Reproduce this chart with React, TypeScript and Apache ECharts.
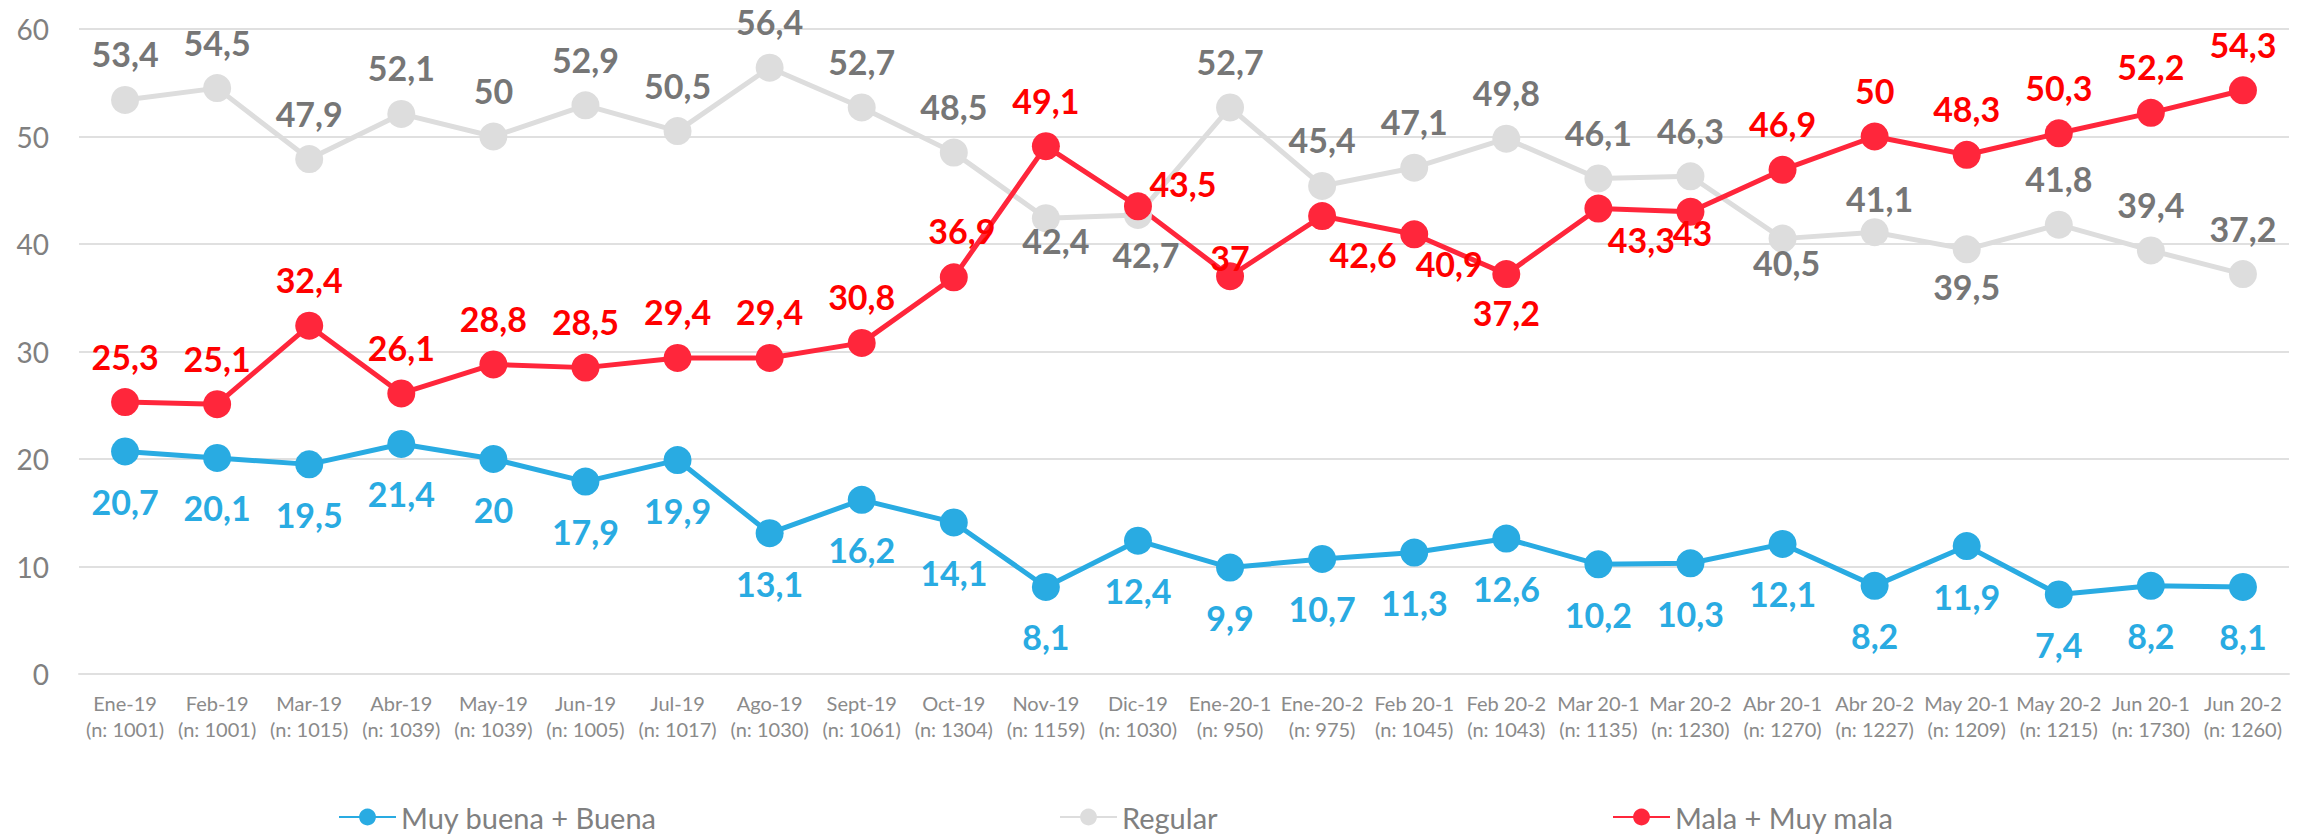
import React, { useEffect, useRef } from "react";
import * as echarts from "echarts";

const categories = [
  "Ene-19", "Feb-19", "Mar-19", "Abr-19", "May-19", "Jun-19", "Jul-19", "Ago-19",
  "Sept-19", "Oct-19", "Nov-19", "Dic-19", "Ene-20-1", "Ene-20-2", "Feb 20-1", "Feb 20-2",
  "Mar 20-1", "Mar 20-2", "Abr 20-1", "Abr 20-2", "May 20-1", "May 20-2", "Jun 20-1", "Jun 20-2",
];
const sampleSizes = [
  "1001", "1001", "1015", "1039", "1039", "1005", "1017", "1030",
  "1061", "1304", "1159", "1030", "950", "975", "1045", "1043",
  "1135", "1230", "1270", "1227", "1209", "1215", "1730", "1260",
];

const buena = [20.7, 20.1, 19.5, 21.4, 20, 17.9, 19.9, 13.1, 16.2, 14.1, 8.1, 12.4, 9.9, 10.7, 11.3, 12.6, 10.2, 10.3, 12.1, 8.2, 11.9, 7.4, 8.2, 8.1];
const regular = [53.4, 54.5, 47.9, 52.1, 50, 52.9, 50.5, 56.4, 52.7, 48.5, 42.4, 42.7, 52.7, 45.4, 47.1, 49.8, 46.1, 46.3, 40.5, 41.1, 39.5, 41.8, 39.4, 37.2];
const mala = [25.3, 25.1, 32.4, 26.1, 28.8, 28.5, 29.4, 29.4, 30.8, 36.9, 49.1, 43.5, 37, 42.6, 40.9, 37.2, 43.3, 43, 46.9, 50, 48.3, 50.3, 52.2, 54.3];

const yTicks = { min: 0, max: 60, interval: 10 };

const seriesNames = ["Muy buena + Buena", "Regular", "Mala + Muy mala"];

// label placement (offsets from the marker centre, px)
const buenaDefaultOffset = [0, 50];
const regularDefaultOffset = [0, -46];
const malaDefaultOffset = [0, -46];
const regularOffsetOverrides: Record<number, number[]> = {
  10: [10, 22], 11: [8, 40], 18: [4, 24], 19: [5, -34], 20: [0, 37],
};
const malaOffsetOverrides: Record<number, number[]> = {
  9: [8, -47], 11: [45, -23], 12: [0, -19], 13: [41, 38], 14: [35, 29], 15: [0, 38], 16: [43, 31], 17: [2, 21],
};

const FONT = "Lato, 'Noto Sans', sans-serif";
const BLUE = "#29ABE2";
const GREY_LINE = "#DDDDDD";
const GREY_TEXT = "#767676";
const RED_LINE = "#FF263B";
const RED_TEXT = "#FF0000";

function buildData(values: number[], def: number[], over: Record<number, number[]>) {
  return values.map((v, i) => ({ value: v, label: { offset: over[i] || def } }));
}

function makeSeries(name: string, values: number[], lineColor: string, textColor: string, def: number[], over: Record<number, number[]>) {
  return {
    name,
    type: "line",
    data: buildData(values, def, over),
    symbol: "circle",
    symbolSize: 28,
    lineStyle: { width: 5, color: lineColor },
    itemStyle: { color: lineColor },
    label: {
      show: true,
      position: "inside",
      color: textColor,
      fontFamily: FONT,
      fontWeight: "bold",
      fontSize: 34,
      formatter: (p: any) => String(p.value).replace(".", ","),
    },
    emphasis: { disabled: true },
  };
}

export default function App() {
  const ref = useRef<HTMLDivElement>(null);
  useEffect(() => {
    if (!ref.current) return;
    const chart = echarts.init(ref.current, undefined, { renderer: "svg" });
    const legendCommon = {
      top: 802,
      itemWidth: 57,
      itemHeight: 21,
      padding: 0,
      selectedMode: false,
      textStyle: { color: "#808080", fontFamily: FONT, fontSize: 29, lineHeight: 30 },
    };
    chart.setOption({
      animation: false,
      backgroundColor: "#ffffff",
      grid: { left: 79, right: 23, top: 29, bottom: 161, containLabel: false },
      legend: [
        { ...legendCommon, data: [seriesNames[0]], left: 338 },
        { ...legendCommon, data: [seriesNames[1]], left: 1059 },
        { ...legendCommon, data: [seriesNames[2]], left: 1612 },
      ],
      xAxis: {
        type: "category",
        data: categories.map((c, i) => `${c}\n(n: ${sampleSizes[i]})`),
        boundaryGap: true,
        axisLine: { show: true, lineStyle: { color: "#E0E0E0", width: 2 } },
        axisTick: { show: false },
        axisLabel: {
          interval: 0,
          margin: 16,
          color: "#8A8A8A",
          fontFamily: FONT,
          fontSize: 20,
          lineHeight: 26,
        },
      },
      yAxis: {
        type: "value",
        min: yTicks.min,
        max: yTicks.max,
        interval: yTicks.interval,
        axisLine: { show: false },
        axisTick: { show: false },
        splitLine: { lineStyle: { color: "#E0E0E0", width: 2 } },
        axisLabel: { margin: 30, color: "#808080", fontFamily: FONT, fontSize: 28 },
      },
      series: [
        makeSeries(seriesNames[0], buena, BLUE, BLUE, buenaDefaultOffset, {}),
        makeSeries(seriesNames[1], regular, GREY_LINE, GREY_TEXT, regularDefaultOffset, regularOffsetOverrides),
        makeSeries(seriesNames[2], mala, RED_LINE, RED_TEXT, malaDefaultOffset, malaOffsetOverrides),
      ],
    });
    return () => chart.dispose();
  }, []);
  return (
    <div
      ref={ref}
      style={{ position: "fixed", left: 0, top: 0, width: 2312, height: 835, background: "#fff" }}
    />
  );
}
